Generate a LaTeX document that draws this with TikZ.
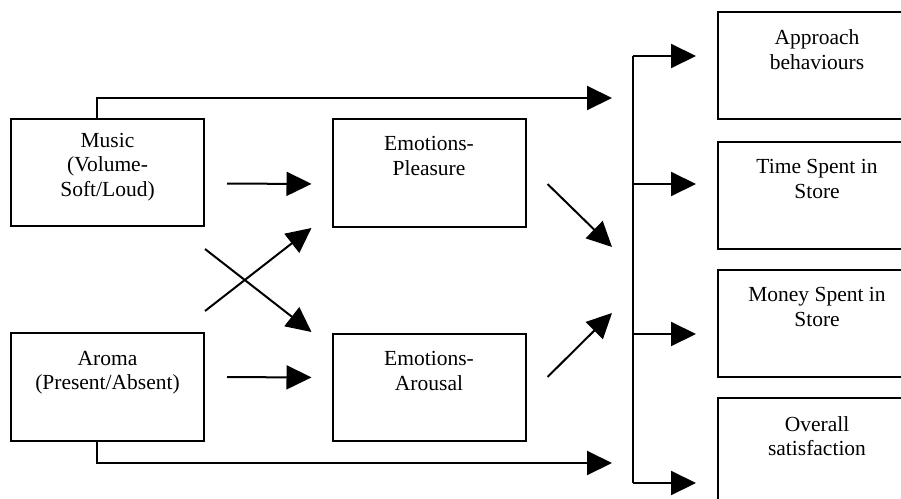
\documentclass[tikz,border=0pt]{standalone}
\usepackage{fontspec}
\setmainfont{Liberation Serif}
\usetikzlibrary{arrows.meta}
\begin{document}
\begin{tikzpicture}[x=1pt,y=-1pt,
 box/.style={draw,line width=2pt,minimum width=193pt,minimum height=107pt,inner sep=0pt},
 rbox/.style={draw,line width=2pt,minimum width=198pt,minimum height=107pt,inner sep=0pt},
 lbl/.style={anchor=north,align=center,inner sep=0pt,font=\fontsize{21.5}{24.5}\selectfont},
 conn/.style={line width=2pt},
 arr/.style={conn,-{Triangle[length=25pt,width=24pt]}}]
\useasboundingbox (0,0) rectangle (901,498);
\clip (0,0) rectangle (901,498);
% boxes
\node[box] (music) at (107.5,172.5) {};
\node[box,minimum height=108pt] (aroma) at (107.5,387) {};
\node[box,minimum height=108pt] (pleas) at (429,173) {};
\node[box] (arous) at (429,387.5) {};
\node[rbox] (appr) at (817,65.5) {};
\node[rbox] (time) at (817,195) {};
\node[rbox] (money) at (817,323.5) {};
\node[rbox] (overall) at (817,451.5) {};
% labels
\node[lbl] (musict) at ([yshift=-15pt]music.north) {Music\\(Volume-\\Soft/Loud)};
\node[lbl] (aromat) at ([yshift=-19pt]aroma.north) {Aroma\\(Present/Absent)};
\node[lbl] (pleast) at ([yshift=-18.5pt]pleas.north) {Emotions-\\Pleasure};
\node[lbl] (aroust) at ([yshift=-18.5pt]arous.north) {Emotions-\\Arousal};
\node[lbl] (apprt) at ([yshift=-18.5pt]appr.north) {Approach\\behaviours};
\node[lbl] (timet) at ([yshift=-19pt]time.north) {Time Spent in\\Store};
\node[lbl] (moneyt) at ([yshift=-18.5pt]money.north) {Money Spent in\\Store};
\node[lbl] (overallt) at ([yshift=-19pt]overall.north) {Overall\\satisfaction};
% free ends and bus
\coordinate (in1) at (612,98);
\coordinate (in2) at (612,247);
\coordinate (in3) at (612,313);
\coordinate (in4) at (612,463);
\coordinate (b1) at (633,56);
\coordinate (b2) at (633,184);
\coordinate (b3) at (633,334);
\coordinate (b4) at (633,483);
% connectors
\draw[arr] ([xshift=-10.5pt]music.north) |- (in1);
\draw[arr] ([xshift=-10.5pt]aroma.south) |- (in4);
\draw[arr,shorten <=22pt,shorten >=20pt] ([yshift=-11pt]music.east) -- ([yshift=-11pt]pleas.west);
\draw[arr,shorten <=22pt,shorten >=20pt] ([yshift=10pt]aroma.east) -- ([yshift=10pt]arous.west);
\draw[arr] ([yshift=-22pt]music.south east) -- ([xshift=-20pt,yshift=1pt]arous.north west);
\draw[arr] ([yshift=21pt]aroma.north east) -- ([xshift=-20pt]pleas.south west);
\draw[arr] ([xshift=21pt,yshift=-11pt]pleas.east) -- (in2);
\draw[arr] ([xshift=21pt,yshift=10.5pt]arous.east) -- (in3);
\draw[conn] (b1) -- (b4);
\draw[arr,shorten >=21pt] (b1) -- (b1 -| appr.west);
\draw[arr,shorten >=21pt] (b2) -- (b2 -| time.west);
\draw[arr,shorten >=21pt] (b3) -- (b3 -| money.west);
\draw[arr,shorten >=21pt] (b4) -- (b4 -| overall.west);
\end{tikzpicture}
\end{document}
